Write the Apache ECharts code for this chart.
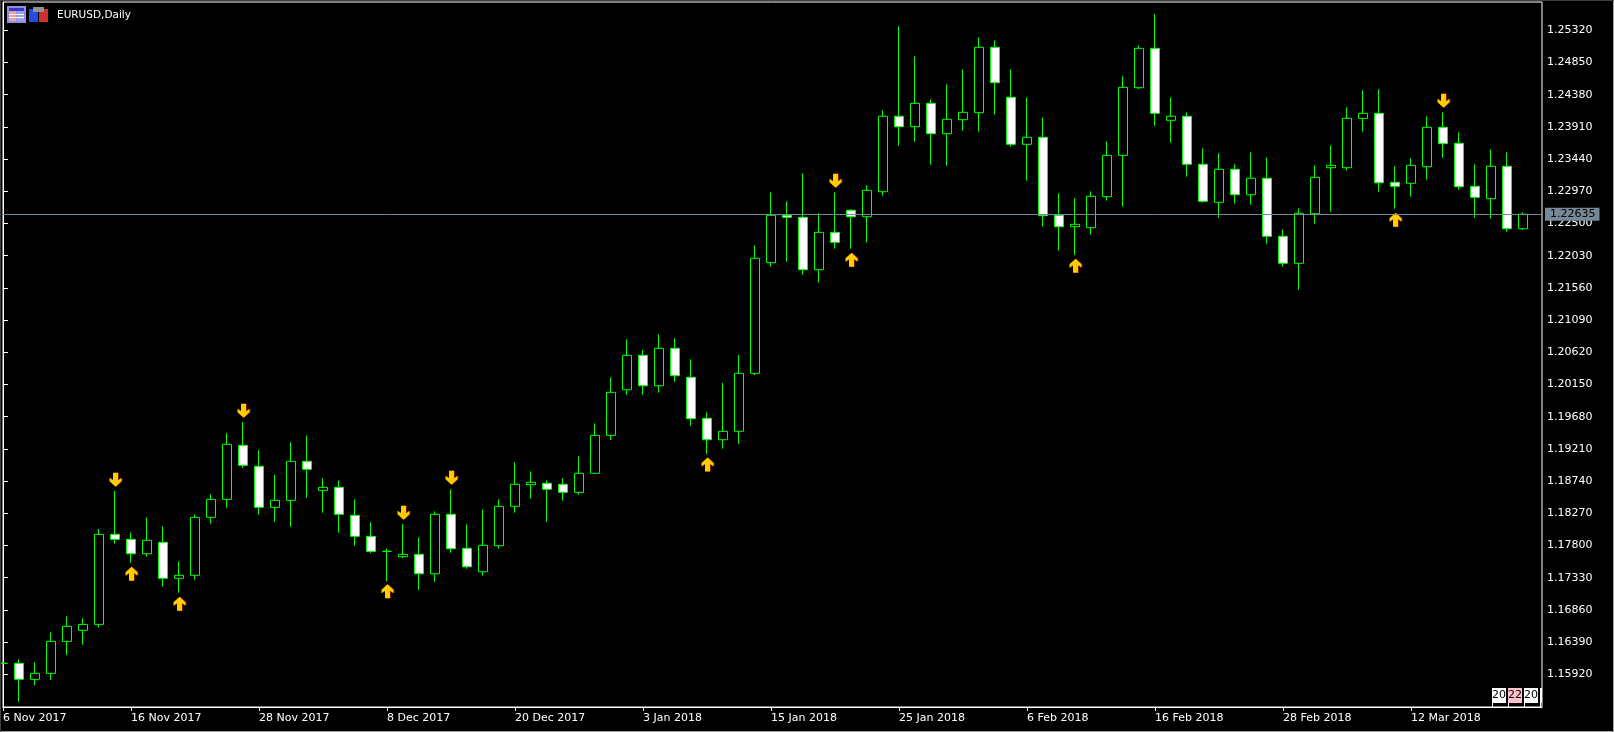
<!DOCTYPE html>
<html>
<head>
<meta charset="utf-8">
<title>EURUSD,Daily</title>
<style>
html, body { margin: 0; padding: 0; background: #000; overflow: hidden; }
#chart { width: 1614px; height: 732px; }
</style>
<script src="https://cdn.jsdelivr.net/npm/echarts@6/dist/echarts.min.js"></script>
</head>
<body>
<div id="chart"></div>
<script>
var chartTitle = 'EURUSD,Daily';
var lastPrice = 1.22635;

var opens = [1.16080,1.16080,1.15847,1.15934,1.16401,1.16562,1.16649,1.17963,1.17890,1.17680,1.17846,1.17321,
    1.17365,1.18211,1.18474,1.19262,1.18956,1.18357,1.18459,1.19029,1.18605,1.18649,1.18240,1.17934,
    1.17715,1.17636,1.17671,1.17388,1.18255,1.17759,1.17417,1.17797,1.18372,1.18687,1.18708,1.18693,
    1.18576,1.18854,1.19408,1.20074,1.20576,1.20132,1.20678,1.20255,1.19656,1.19344,1.19467,1.20313,
    1.21928,1.22620,1.22590,1.21826,1.22371,1.22693,1.22599,1.22964,1.24065,1.23913,1.24254,1.23811,
    1.24015,1.24117,1.25072,1.24342,1.23656,1.23758,1.22620,1.22453,1.22439,1.22891,1.23495,1.24482,
    1.25057,1.24006,1.24065,1.23364,1.22809,1.23291,1.22920,1.23160,1.22313,1.21919,1.22643,1.23314,
    1.23314,1.24035,1.24108,1.23101,1.23087,1.23329,1.23904,1.23671,1.23043,1.22862,1.23335,1.22424];
var closes = [1.16080,1.15847,1.15934,1.16401,1.16620,1.16649,1.17963,1.17890,1.17680,1.17876,1.17321,1.17365,
    1.18211,1.18474,1.19277,1.18970,1.18357,1.18459,1.19029,1.18912,1.18649,1.18255,1.17934,1.17712,
    1.17715,1.17671,1.17388,1.18255,1.17753,1.17490,1.17803,1.18372,1.18693,1.18722,1.18620,1.18576,
    1.18854,1.19408,1.20036,1.20576,1.20132,1.20678,1.20278,1.19651,1.19344,1.19467,1.20313,1.21992,
    1.22620,1.22590,1.21826,1.22371,1.22225,1.22599,1.22984,1.24065,1.23913,1.24254,1.23811,1.24021,
    1.24123,1.25072,1.24555,1.23656,1.23758,1.22614,1.22453,1.22488,1.22897,1.23495,1.24488,1.25057,
    1.24108,1.24065,1.23364,1.22824,1.23291,1.22920,1.23160,1.22313,1.21919,1.22649,1.23174,1.23349,
    1.24035,1.24108,1.23095,1.23043,1.23349,1.23904,1.23665,1.23037,1.22882,1.23335,1.22424,1.22635];
var lows = [1.16070,1.15520,1.15763,1.15836,1.16201,1.16352,1.16600,1.17826,1.17549,1.17636,1.17198,1.17111,
    1.17300,1.18118,1.18351,1.18935,1.18249,1.18147,1.18074,1.18497,1.18278,1.17986,1.17797,1.17690,
    1.17281,1.17617,1.17154,1.17271,1.17694,1.17461,1.17359,1.17753,1.18278,1.18483,1.18147,1.18454,
    1.18541,1.18843,1.19340,1.19996,1.19996,1.20030,1.20191,1.19548,1.19135,1.19213,1.19281,1.20288,
    1.21869,1.21942,1.21752,1.21636,1.22132,1.22132,1.22220,1.22906,1.23636,1.23694,1.23358,1.23344,
    1.23854,1.23840,1.24088,1.23621,1.23125,1.22453,1.22103,1.22040,1.22336,1.22833,1.22745,1.24463,
    1.23927,1.23679,1.23183,1.22804,1.22585,1.22789,1.22774,1.22205,1.21869,1.21534,1.22497,1.22672,
    1.23271,1.23840,1.22964,1.22716,1.22891,1.23139,1.23460,1.22993,1.22585,1.22570,1.22380,1.22405];
var highs = [1.16090,1.16138,1.16095,1.16533,1.16766,1.16737,1.18040,1.18595,1.17992,1.18211,1.18080,1.17569,
    1.18255,1.18547,1.19442,1.19602,1.19194,1.18829,1.19306,1.19405,1.18781,1.18751,1.18474,1.18138,
    1.17759,1.18113,1.17919,1.18299,1.18620,1.18109,1.18328,1.18474,1.19014,1.18883,1.18751,1.18781,
    1.19102,1.19583,1.20255,1.20810,1.20653,1.20883,1.20824,1.20518,1.19744,1.20172,1.20580,1.22182,
    1.22955,1.22824,1.23233,1.22649,1.22955,1.22707,1.23057,1.24152,1.25378,1.24940,1.24313,1.24532,
    1.24751,1.25218,1.25174,1.24751,1.24342,1.24050,1.22941,1.22868,1.22970,1.23700,1.24649,1.25101,
    1.25558,1.24342,1.24123,1.23598,1.23525,1.23364,1.23539,1.23466,1.22415,1.22722,1.23349,1.23641,
    1.24196,1.24444,1.24459,1.23335,1.23452,1.24065,1.24123,1.23831,1.23364,1.23583,1.23539,1.22663];

// fractal arrows
var downArrowBars = [7, 15, 25, 28, 52, 90];
var downArrowPrices = [1.18759, 1.19767, 1.18278, 1.18788, 1.23123, 1.24291];
var upArrowBars = [8, 11, 24, 44, 53, 67, 87];
var upArrowPrices = [1.17388, 1.16950, 1.17131, 1.18982, 1.21971, 1.21884, 1.22555];

var dateTickBars = [0, 8, 16, 24, 32, 40, 48, 56, 64, 72, 80, 88];
var dateTickLabels = ['6 Nov 2017', '16 Nov 2017', '28 Nov 2017', '8 Dec 2017', '20 Dec 2017', '3 Jan 2018',
    '15 Jan 2018', '25 Jan 2018', '6 Feb 2018', '16 Feb 2018', '28 Feb 2018', '12 Mar 2018'];
var priceTicks = [1.25320, 1.24850, 1.24380, 1.23910, 1.23440, 1.22970, 1.22500, 1.22030, 1.21560, 1.21090, 1.20620,
    1.20150, 1.19680, 1.19210, 1.18740, 1.18270, 1.17800, 1.17330, 1.16860, 1.16390, 1.15920];
var spreadLabels = ['20', '22', '20'];
var spreadColors = ['#ffffff', '#ffc0cb', '#ffffff'];

var arrowPath = 'path://M6 0L12 5.5L12 9L8.5 6.5L8.5 14L3.5 14L3.5 6.5L0 9L0 5.5Z';
var arrowStyle = {color: '#ffcc00', opacity: 1, shadowColor: '#7a1a00', shadowBlur: 0, shadowOffsetX: 1};

function rect(x, y, w, h, fill) {
    return {type: 'rect', silent: true, z: 10, shape: {x: x, y: y, width: w, height: h}, style: {fill: fill}};
}

var graphics = [
    // window edge
    rect(1613, 0, 1, 732, '#a0a0a0'),
    rect(0, 731, 1614, 1, '#a0a0a0'),
    rect(0, 0, 1614, 1, '#404040'),
    rect(0, 0, 1, 732, '#404040'),
    // table icon
    rect(7, 6, 19, 17, '#9090e0'),
    rect(9, 8, 15, 3, '#3838c8'),
    rect(9, 11, 7, 10, '#f0a0a0'),
    rect(17, 11, 7, 10, '#a0a0f0'),
    rect(9, 14, 15, 1, '#ffffff'),
    rect(9, 17, 15, 1, '#ffffff'),
    // chart set icon
    rect(29, 9, 9, 13, '#2848e0'),
    rect(39, 9, 9, 13, '#d03030'),
    rect(33, 7, 11, 5, '#909090'),
    {
        type: 'text', silent: true, z: 10, x: 57, y: 10,
        style: {text: chartTitle, fill: '#ffffff', font: '10.5px "DejaVu Sans"'}
    }
];

// spread boxes, bottom right of the plot
spreadLabels.forEach(function(label, i) {
    var left = 1492 + i * 16;
    graphics.push(rect(left, 688, 14, 15, spreadColors[i]));
    graphics.push(rect(left, 703, 1, 4, '#ffffff'));
    graphics.push({
        type: 'text', silent: true, z: 11, x: left + 7, y: 690,
        style: {text: label, fill: '#000000', font: '11px "DejaVu Sans"', align: 'center'}
    });
});
graphics.push(rect(1540, 688, 2, 15, '#ffffff'));
graphics.push(rect(1540, 703, 1, 4, '#ffffff'));

var chart = echarts.init(document.getElementById('chart'));
chart.setOption({
    animation: false,
    backgroundColor: '#000000',
    textStyle: {fontFamily: '"DejaVu Sans"'},
    graphic: graphics,
    grid: {
        left: 3, top: 2, right: 72, bottom: 25,
        show: true,
        borderColor: '#ffffff',
        borderWidth: 1,
        backgroundColor: 'transparent'
    },
    xAxis: {
        type: 'value',
        min: 0,
        max: 96.1875,
        splitLine: {show: false},
        axisLine: {show: true, lineStyle: {color: '#ffffff'}},
        axisTick: {show: true, length: 4, lineStyle: {color: '#ffffff'}, customValues: dateTickBars},
        axisLabel: {
            color: '#ffffff',
            fontSize: 11,
            fontFamily: '"DejaVu Sans"',
            align: 'left',
            margin: 6,
            customValues: dateTickBars,
            formatter: function(value) {
                return dateTickLabels[dateTickBars.indexOf(value)] || '';
            }
        }
    },
    yAxis: {
        type: 'value',
        position: 'right',
        min: 1.15443,
        max: 1.25733,
        splitLine: {show: false},
        axisLine: {show: true, lineStyle: {color: '#ffffff'}},
        axisTick: {show: true, length: 5, lineStyle: {color: '#ffffff'}, customValues: priceTicks},
        axisLabel: {
            color: '#ffffff',
            fontSize: 11,
            fontFamily: '"DejaVu Sans"',
            margin: 5,
            padding: [2, 0, 0, 0],
            customValues: priceTicks,
            formatter: function(value) {
                return value.toFixed(5);
            }
        }
    },
    series: [
        {
            // only carries the last price line, behind the candles
            name: 'Last',
            type: 'scatter',
            z: 1,
            symbolSize: 0,
            silent: true,
            data: [[0, lastPrice]],
            markLine: {
                silent: true,
                symbol: 'none',
                precision: 5,
                lineStyle: {color: '#778899', width: 1, type: 'solid'},
                label: {
                    show: true,
                    position: 'end',
                    distance: 3,
                    formatter: lastPrice.toFixed(5),
                    color: '#000000',
                    fontSize: 11,
                    fontFamily: '"DejaVu Sans"',
                    backgroundColor: '#778899',
                    padding: [1, 4, 1, 5]
                },
                data: [{yAxis: lastPrice}]
            }
        },
        {
            name: 'EURUSD',
            type: 'candlestick',
            z: 3,
            barWidth: 10,
            itemStyle: {
                color: '#000000',
                color0: '#ffffff',
                borderColor: '#00ff00',
                borderColor0: '#00ff00',
                borderColorDoji: '#00ff00',
                borderWidth: 1
            },
            data: opens.map(function(open, i) {
                return [i, open, closes[i], lows[i], highs[i]];
            })
        },
        {
            name: 'Fractal down',
            type: 'scatter',
            z: 4,
            symbol: arrowPath,
            symbolSize: [12, 14],
            symbolRotate: 180,
            symbolOffset: [0.5, 0],
            itemStyle: arrowStyle,
            data: downArrowBars.map(function(bar, i) {
                return [bar, downArrowPrices[i]];
            })
        },
        {
            name: 'Fractal up',
            type: 'scatter',
            z: 4,
            symbol: arrowPath,
            symbolSize: [12, 14],
            symbolOffset: [0.5, 0],
            itemStyle: arrowStyle,
            data: upArrowBars.map(function(bar, i) {
                return [bar, upArrowPrices[i]];
            })
        }
    ]
});
</script>
</body>
</html>
